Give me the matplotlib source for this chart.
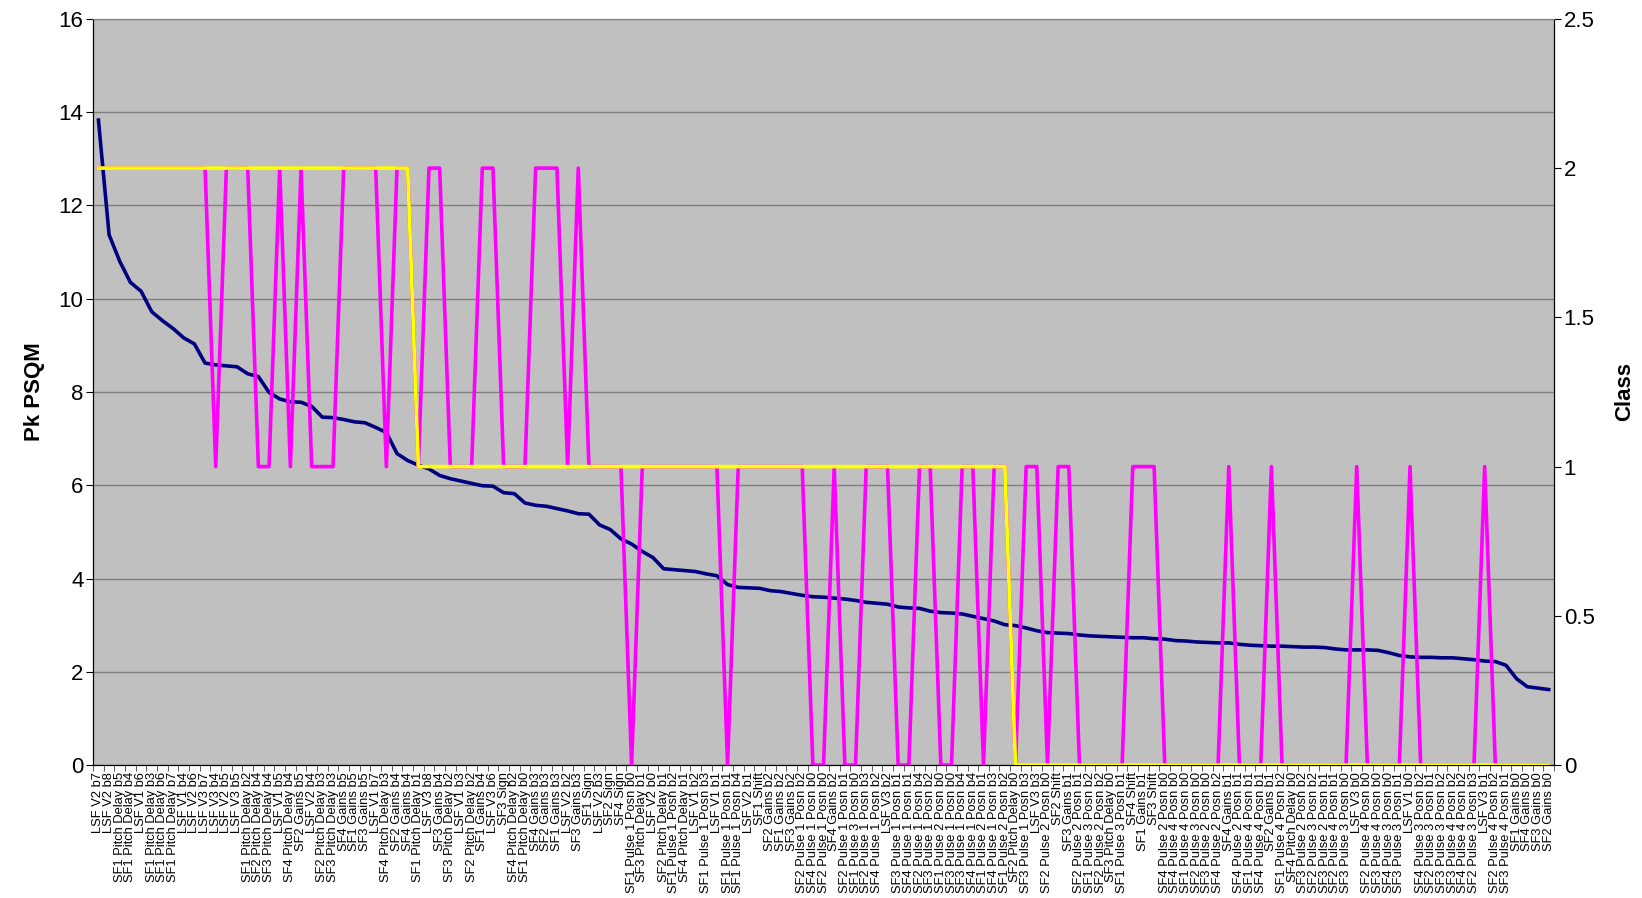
import matplotlib.pyplot as plt
import numpy as np

plt.rcParams['font.family'] = ['Liberation Sans', 'DejaVu Sans']

labels = [
    "LSF V2 b7", "LSF V2 b8", "SF1 Pitch Delay b5", "SF1 Pitch Delay b4", "LSF V1 b6",
    "SF1 Pitch Delay b3", "SF1 Pitch Delay b6", "SF1 Pitch Delay b7", "LSF V1 b4", "LSF V2 b6",
    "LSF V3 b7", "LSF V3 b4", "LSF V2 b5", "LSF V3 b5", "SF1 Pitch Delay b2",
    "SF2 Pitch Delay b4", "SF3 Pitch Delay b4", "LSF V1 b5", "SF4 Pitch Delay b4", "SF2 Gains b5",
    "LSF V2 b4", "SF2 Pitch Delay b3", "SF3 Pitch Delay b3", "SF4 Gains b5", "SF1 Gains b5",
    "SF3 Gains b5", "LSF V1 b7", "SF4 Pitch Delay b3", "SF2 Gains b4", "SF4 Gains b4",
    "SF1 Pitch Delay b1", "LSF V3 b8", "SF3 Gains b4", "SF3 Pitch Delay b2", "LSF V1 b3",
    "SF2 Pitch Delay b2", "SF1 Gains b4", "LSF V3 b6", "SF3 Sign", "SF4 Pitch Delay b2",
    "SF1 Pitch Delay b0", "SF4 Gains b3", "SF2 Gains b3", "SF1 Gains b3", "LSF V2 b2",
    "SF3 Gains b3", "SF1 Sign", "LSF V2 b3", "SF2 Sign", "SF4 Sign",
    "SF1 Pulse 1 Posn b0", "SF3 Pitch Delay b1", "LSF V2 b0", "SF2 Pitch Delay b1", "SF1 Pulse 1 Posn b2",
    "SF4 Pitch Delay b1", "LSF V1 b2", "SF1 Pulse 1 Posn b3", "LSF V1 b1", "SF1 Pulse 1 Posn b1",
    "SF1 Pulse 1 Posn b4", "LSF V2 b1", "SF1 Shift", "SF2 Gains b2", "SF1 Gains b2",
    "SF3 Gains b2", "SF2 Pulse 1 Posn b2", "SF4 Pulse 1 Posn b0", "SF2 Pulse 1 Posn b0", "SF4 Gains b2",
    "SF2 Pulse 1 Posn b1", "SF1 Pulse 3 Posn b0", "SF2 Pulse 1 Posn b3", "SF4 Pulse 1 Posn b2", "LSF V3 b2",
    "SF3 Pulse 1 Posn b1", "SF4 Pulse 1 Posn b1", "SF2 Pulse 1 Posn b4", "SF3 Pulse 1 Posn b2", "SF1 Pulse 2 Posn b0",
    "SF3 Pulse 1 Posn b0", "SF3 Pulse 1 Posn b4", "SF4 Pulse 1 Posn b4", "SF1 Pulse 2 Posn b1", "SF4 Pulse 1 Posn b3",
    "SF1 Pulse 2 Posn b2", "SF2 Pitch Delay b0", "SF3 Pulse 1 Posn b3", "LSF V3 b3", "SF2 Pulse 2 Posn b0",
    "SF2 Shift", "SF3 Gains b1", "SF2 Pulse 2 Posn b1", "SF1 Pulse 3 Posn b2", "SF2 Pulse 2 Posn b2",
    "SF3 Pitch Delay b0", "SF1 Pulse 3 Posn b1", "SF4 Shift", "SF1 Gains b1", "SF3 Shift",
    "SF4 Pulse 2 Posn b0", "SF4 Pulse 4 Posn b0", "SF1 Pulse 4 Posn b0", "SF2 Pulse 3 Posn b0", "SF3 Pulse 2 Posn b0",
    "SF4 Pulse 2 Posn b2", "SF4 Gains b1", "SF4 Pulse 2 Posn b1", "SF1 Pulse 4 Posn b1", "SF4 Pulse 4 Posn b1",
    "SF2 Gains b1", "SF1 Pulse 4 Posn b2", "SF4 Pitch Delay b0", "SF3 Pulse 2 Posn b2", "SF2 Pulse 3 Posn b2",
    "SF3 Pulse 2 Posn b1", "SF2 Pulse 4 Posn b1", "SF3 Pulse 3 Posn b0", "LSF V3 b0", "SF2 Pulse 4 Posn b0",
    "SF3 Pulse 4 Posn b0", "SF4 Pulse 3 Posn b0", "SF3 Pulse 3 Posn b1", "LSF V1 b0", "SF4 Pulse 3 Posn b2",
    "SF2 Pulse 3 Posn b1", "SF3 Pulse 3 Posn b2", "SF3 Pulse 4 Posn b2", "SF4 Pulse 4 Posn b2", "SF2 Pulse 3 Posn b3",
    "LSF V3 b1", "SF2 Pulse 4 Posn b2", "SF3 Pulse 4 Posn b1", "SF1 Gains b0", "SF4 Gains b0",
    "SF3 Gains b0", "SF2 Gains b0",
]

pk_psqm = [
    13.83, 11.37, 10.80, 10.35, 10.16, 9.72, 9.53, 9.36, 9.16, 9.03,
    8.62, 8.58, 8.56, 8.54, 8.39, 8.33, 7.99, 7.85, 7.79, 7.78,
    7.69, 7.46, 7.45, 7.41, 7.36, 7.34, 7.24, 7.13, 6.68, 6.53,
    6.43, 6.35, 6.21, 6.14, 6.09, 6.04, 5.99, 5.98, 5.84, 5.82,
    5.62, 5.57, 5.55, 5.50, 5.45, 5.39, 5.38, 5.15, 5.05, 4.85,
    4.74, 4.58, 4.45, 4.21, 4.19, 4.17, 4.15, 4.10, 4.06, 3.87,
    3.81, 3.80, 3.79, 3.74, 3.72, 3.68, 3.64, 3.61, 3.60, 3.58,
    3.56, 3.53, 3.49, 3.47, 3.45, 3.39, 3.37, 3.36, 3.30, 3.27,
    3.26, 3.24, 3.19, 3.14, 3.09, 3.01, 2.99, 2.94, 2.88, 2.84,
    2.83, 2.82, 2.79, 2.77, 2.76, 2.75, 2.74, 2.73, 2.73, 2.71,
    2.70, 2.67, 2.66, 2.64, 2.63, 2.62, 2.62, 2.59, 2.57, 2.56,
    2.55, 2.55, 2.54, 2.53, 2.53, 2.52, 2.49, 2.47, 2.47, 2.47,
    2.46, 2.41, 2.35, 2.32, 2.31, 2.31, 2.30, 2.30, 2.28, 2.26,
    2.23, 2.22, 2.14, 1.85, 1.68, 1.65, 1.62,
]

predicted_class = [
    2, 2, 2, 2, 2, 2, 2, 2, 2, 2,
    2, 1, 2, 2, 2, 1, 1, 2, 1, 2,
    1, 1, 1, 2, 2, 2, 2, 1, 2, 2,
    1, 2, 2, 1, 1, 1, 2, 2, 1, 1,
    1, 2, 2, 2, 1, 2, 1, 1, 1, 1,
    0, 1, 1, 1, 1, 1, 1, 1, 1, 0,
    1, 1, 1, 1, 1, 1, 1, 0, 0, 1,
    0, 0, 1, 1, 1, 0, 0, 1, 1, 0,
    0, 1, 1, 0, 1, 1, 0, 1, 1, 0,
    1, 1, 0, 0, 0, 0, 0, 1, 1, 1,
    0, 0, 0, 0, 0, 0, 1, 0, 0, 0,
    1, 0, 0, 0, 0, 0, 0, 0, 1, 0,
    0, 0, 0, 1, 0, 0, 0, 0, 0, 0,
    1, 0, 0, 0, 0, 0, 0,
]

actual_class = [2] * 30 + [1] * 56 + [0] * 51

x = np.arange(len(labels))

fig = plt.figure(figsize=(16.42, 8.98), dpi=100)
ax = fig.add_axes([0.0567, 0.148, 0.8897, 0.831])
ax.set_facecolor('#C0C0C0')
ax.plot(x, pk_psqm, color='#000080', lw=2.6, zorder=3)
ax.set_xlim(-0.5, len(labels) - 0.5)
ax.set_ylim(0, 16)
ax.set_yticks(np.arange(0, 17, 2))
ax.yaxis.grid(True, color='#808080', lw=1)
ax.set_axisbelow(True)
ax.set_ylabel('Pk PSQM', fontsize=16, fontweight='bold', labelpad=10)

ax.set_xticks(x)
ax.set_xticklabels(labels, rotation=90, fontsize=9.3, va='top', ha='center')
ax.set_xticks(np.arange(-0.5, len(labels), 1), minor=True)
ax.tick_params(axis='x', which='major', length=0, pad=5)
ax.tick_params(axis='x', which='minor', length=4, direction='out', color='#404040')
ax.tick_params(axis='y', labelsize=16, length=5, direction='out', pad=2)

ax2 = ax.twinx()
ax2.plot(x, predicted_class, color='#FF00FF', lw=2.6, zorder=3)
ax2.plot(x, actual_class, color='#FFFF00', lw=2.6, zorder=4)
ax2.set_ylim(0, 2.5)
ax2.set_yticks(np.arange(0, 2.6, 0.5))
ax2.set_yticklabels(['0', '0.5', '1', '1.5', '2', '2.5'])
ax2.tick_params(axis='y', labelsize=16, length=5, direction='out', pad=2)
ax2.set_ylabel('Class', fontsize=16, fontweight='bold', labelpad=14)

for a in (ax, ax2):
    a.spines['top'].set_color('#808080')
    for s in ('left', 'right', 'bottom'):
        a.spines[s].set_color('#000000')

fig.savefig('out.png', dpi=100)
